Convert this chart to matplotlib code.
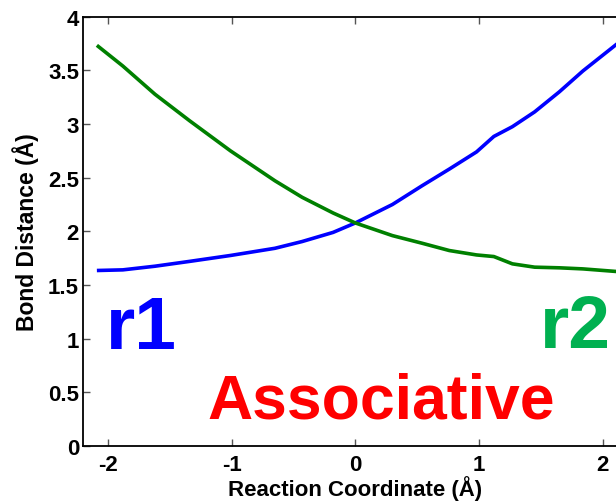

# bond distance r1 / r2 along reaction coordinate (associative path)
import numpy as np
import matplotlib
matplotlib.use('Agg')
import matplotlib.pyplot as plt

plt.rcParams['font.family'] = ['Liberation Sans', 'DejaVu Sans']
plt.rcParams['font.weight'] = 'bold'
plt.rcParams['axes.unicode_minus'] = False

# data
reaction_coord = [-2.09, -1.88, -1.62, -1.34, -1.01, -0.65, -0.43, -0.18, 0.0,
                  0.30, 0.54, 0.76, 0.98, 1.12, 1.27, 1.45, 1.65, 1.84, 2.12]
r1_dist = [1.635, 1.641, 1.675, 1.72, 1.775, 1.842, 1.905, 1.99, 2.078,
           2.25, 2.425, 2.58, 2.74, 2.884, 2.975, 3.113, 3.30, 3.494, 3.75]
r2_dist = [3.733, 3.54, 3.277, 3.03, 2.75, 2.471, 2.317, 2.171, 2.078,
           1.96, 1.889, 1.821, 1.78, 1.765, 1.697, 1.666, 1.66, 1.65, 1.625]

x_ticks = [-2, -1, 0, 1, 2]
x_ticklabels = ['-2', '-1', '0', '1', '2']
y_ticks = [0, 0.5, 1, 1.5, 2, 2.5, 3, 3.5, 4]
y_ticklabels = ['0', '0.5', '1', '1.5', '2', '2.5', '3', '3.5', '4']

fig = plt.figure(figsize=(6.16, 5.02), dpi=100)
# axes runs past the right edge like the original (cropped) figure
ax = fig.add_axes([0.1352, 0.1096, 0.8833, 0.8552])

ax.plot(reaction_coord, r1_dist, color='#0000ff', lw=2.6, solid_capstyle='butt')
ax.plot(reaction_coord, r2_dist, color='#008000', lw=2.6, solid_capstyle='butt')

ax.set_xlim(-2.2, 2.2)
ax.set_ylim(0, 4)
ax.set_xticks(x_ticks)
ax.set_xticklabels(x_ticklabels)
ax.set_yticks(y_ticks)
ax.set_yticklabels(y_ticklabels)

# matlab style ticks
ax.tick_params(direction='in', length=5, width=1, color='#555555',
               top=True, right=True, labelsize=16)
ax.tick_params(axis='x', pad=6)
ax.tick_params(axis='y', pad=3)
for s in ax.spines.values():
    s.set_linewidth(1.3)

ax.set_xlabel('Reaction Coordinate (Å)', fontsize=16, fontweight='bold')
ax.set_ylabel('Bond Distance (Å)', fontsize=16.5, fontweight='bold')
ax.xaxis.set_label_coords(0.5, -0.068)
ax.yaxis.set_label_coords(-0.081, 0.5)

# annotations
ax.text(-2.014, 0.913, 'r1', color='#0000ff', fontsize=54, fontweight='bold',
        ha='left', va='baseline')
ax.text(1.492, 0.92, 'r2', color='#00b050', fontsize=54, fontweight='bold',
        ha='left', va='baseline')
ax.text(0.205, 0.267, 'Associative', color='#ff0000', fontsize=45,
        fontweight='bold', ha='center', va='baseline')

fig.savefig('out.png', dpi=100)
